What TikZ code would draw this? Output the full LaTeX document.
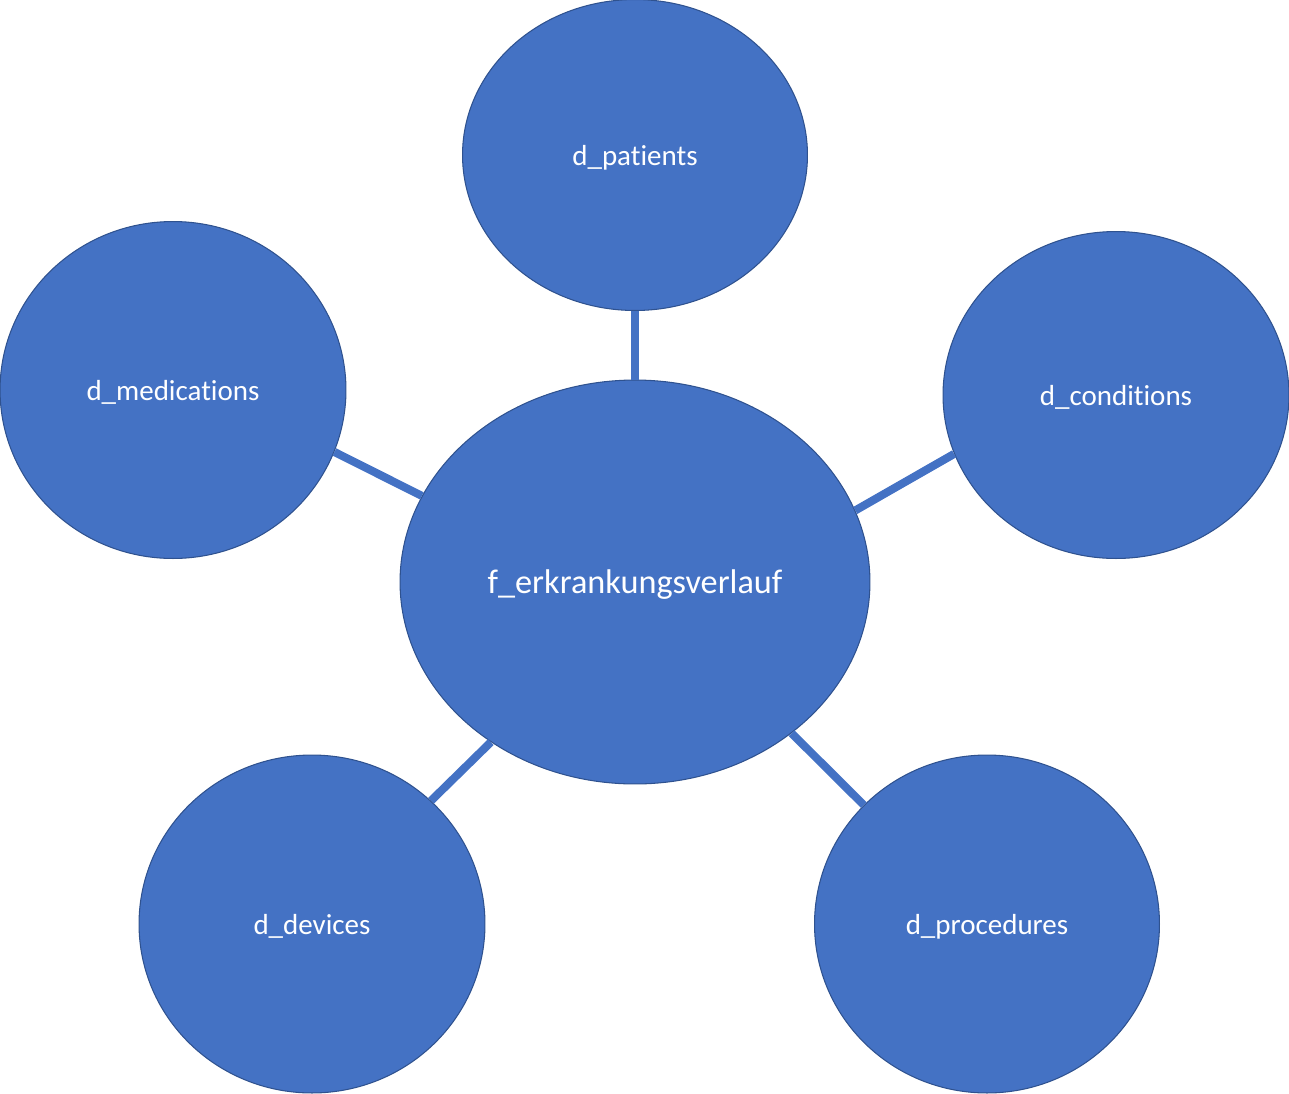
\documentclass[tikz,border=0pt]{standalone}
\usepackage{fontspec}
\setmainfont[Ligatures=NoCommon]{Carlito}
\usetikzlibrary{shapes.geometric}
\definecolor{bubblefill}{HTML}{4472C4}
\definecolor{bubbleedge}{HTML}{2F528F}
\begin{document}
\begin{tikzpicture}[x=0.02cm,y=-0.02cm,
  bubble/.style={ellipse,fill=bubblefill,draw=bubbleedge,line width=0.6pt,inner sep=0pt,text depth=0pt,text=white,font=\fontsize{16.5}{20}\selectfont},
  link/.style={draw=bubblefill,line width=4.6pt}]
\useasboundingbox (0,0) rectangle (1289,1093);
\node[bubble,minimum width=9.4cm,minimum height=8.08cm,font=\fontsize{19.5}{23}\selectfont] (fact) at (635,582) {f\_erkrankungsverlauf};
\node[bubble,minimum width=6.9cm,minimum height=6.22cm] (patients) at (635,155) {d\_patients};
\node[bubble,minimum width=6.92cm,minimum height=6.74cm] (medications) at (173,390) {d\_medications};
\node[bubble,minimum width=6.92cm,minimum height=6.54cm] (conditions) at (1116,395) {d\_conditions};
\node[bubble,minimum width=6.92cm,minimum height=6.76cm] (devices) at (312,924) {d\_devices};
\node[bubble,minimum width=6.9cm,minimum height=6.76cm] (procedures) at (987,924) {d\_procedures};
\foreach \a/\d/\b in {90/patients/-90,158/medications/-21.5,18/conditions/-160.4,228/devices/46.4,-44/procedures/136.6}
	\draw[link] (fact.\a) -- (\d.\b);
\end{tikzpicture}
\end{document}
